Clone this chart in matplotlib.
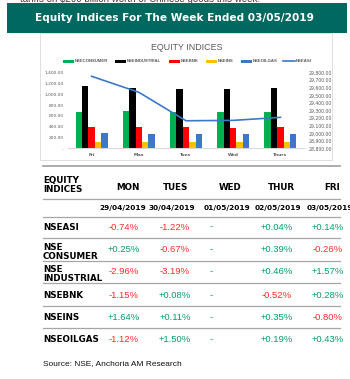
import numpy as np
import matplotlib
matplotlib.use('Agg')
import matplotlib.pyplot as plt
from matplotlib.patches import Rectangle
from matplotlib.lines import Line2D

# Chart data
days = ['Fri', 'Mon', 'Tues', 'Wed', 'Thurs']
nse_consumer = [681, 689, 676, 676, 676]
nse_industrial = [1160, 1123, 1094, 1094, 1112]
nsebnk = [390, 387, 387, 380, 387]
nseins = [125, 123, 123, 123, 123]
nseoilgas = [280, 276, 276, 276, 276]
nseasi = [29750, 29540, 29165, 29170, 29210]

bar_series = ['NSECONSUMER', 'NSEINDUSTRIAL', 'NSEBNK', 'NSEINS', 'NSEOILGAS']
bar_values = [nse_consumer, nse_industrial, nsebnk, nseins, nseoilgas]
bar_colors = ['#00b050', '#000000', '#ff0000', '#ffc000', '#3b78c8']
line_color = '#3b78c8'

# Table data
col_heads = ['MON', 'TUES', 'WED', 'THUR', 'FRI']
col_dates = ['29/04/2019', '30/04/2019', '01/05/2019', '02/05/2019', '03/05/2019']
row_names = ['NSEASI', 'NSE\nCONSUMER', 'NSE\nINDUSTRIAL', 'NSEBNK', 'NSEINS', 'NSEOILGAS']
row_values = [
    ['-0.74%', '-1.22%', '-', '+0.04%', '+0.14%'],
    ['+0.25%', '-0.67%', '-', '+0.39%', '-0.26%'],
    ['-2.96%', '-3.19%', '-', '+0.46%', '+1.57%'],
    ['-1.15%', '+0.08%', '-', '-0.52%', '+0.28%'],
    ['+1.64%', '+0.11%', '-', '+0.35%', '-0.80%'],
    ['-1.12%', '+1.50%', '-', '+0.19%', '+0.43%'],
]

W, H = 350, 379
fig = plt.figure(figsize=(W / 100, H / 100), dpi=100)
fig.patch.set_facecolor('white')


def fx(x):
    return x / W


def fy(y):
    return 1 - y / H


# text cut off at the very top
fig.text(fx(20), fy(1.5), 'tariffs on $200 billion worth of Chinese goods this week.',
         fontsize=7, color='#404040', va='baseline', ha='left', family='Liberation Sans', zorder=1)

# title banner
fig.add_artist(Rectangle((fx(7), fy(33)), fx(340), 30 / H, transform=fig.transFigure,
                         facecolor='#00695f', edgecolor='none', zorder=2))
fig.text(fx(174), fy(18), 'Equity Indices For The Week Ended 03/05/2019', color='white',
         fontsize=7.6, fontweight='bold', ha='center', va='center', zorder=3)

# chart box (behind the axes)
fig.add_artist(Rectangle((fx(40), fy(160)), fx(292), 127 / H, transform=fig.transFigure,
                         facecolor='white', edgecolor='#d9d9d9', lw=0.6, zorder=-1))
fig.text(fx(187), fy(47), 'EQUITY INDICES', fontsize=6.4, color='#595959',
         ha='center', va='center', family='Liberation Sans')

# legend drawn by hand
leg_x = [63, 115, 169, 206, 241]
for lx, name, c in zip(leg_x, bar_series, bar_colors):
    fig.add_artist(Rectangle((fx(lx), fy(62.5)), fx(11), 3 / H, transform=fig.transFigure,
                             facecolor=c, edgecolor='none'))
    fig.text(fx(lx + 12), fy(61), name, fontsize=3.1, color='#595959', fontweight='bold',
             ha='left', va='center', family='Liberation Sans')
fig.add_artist(Line2D([fx(283), fx(295)], [fy(61), fy(61)], color=line_color, lw=1.2))
fig.text(fx(296), fy(61), 'NSEASI', fontsize=3.1, color='#595959', fontweight='bold',
         ha='left', va='center', family='Liberation Sans')

# bar chart
ax = fig.add_axes([fx(68), fy(148.5), 236 / W, 76 / H])
x = np.arange(len(days))
bw = 0.135
for i, (vals, c) in enumerate(zip(bar_values, bar_colors)):
    ax.bar(x + (i - 2) * bw, vals, width=bw, color=c, edgecolor='none', zorder=2)
ax.set_xlim(-0.5, 4.5)
ax.set_ylim(0, 1400)
yt = np.arange(0, 1401, 200)
ax.set_yticks(yt)
ax.set_yticklabels(['-'] + ['{:,.2f}'.format(v) for v in yt[1:]])
ax.set_xticks(x)
ax.set_xticklabels(days)
for s in ['top', 'right', 'left']:
    ax.spines[s].set_visible(False)
ax.spines['bottom'].set_color('#d9d9d9')
ax.spines['bottom'].set_linewidth(0.8)
ax.tick_params(axis='both', length=0, labelsize=3.2, labelcolor='#595959')
ax.tick_params(axis='y', pad=3)
ax.tick_params(axis='x', pad=3.5)
for lab in ax.get_xticklabels():
    lab.set_fontweight('bold')
ax.patch.set_alpha(0)

ax2 = ax.twinx()
ax2.plot(x, nseasi, color=line_color, lw=1.2, zorder=3)
ax2.set_ylim(28800, 29800)
yt2 = np.arange(28800, 29801, 100)
ax2.set_yticks(yt2)
ax2.set_yticklabels(['{:,.2f}'.format(v) for v in yt2])
for s in ax2.spines.values():
    s.set_visible(False)
ax2.tick_params(axis='y', length=0, labelsize=3.3, labelcolor='#595959', pad=3)

# table
col_x = [128, 176, 230, 281, 332]
date_x = [123, 172, 227, 278, 330]
val_x = [124, 175, 211, 277, 328]
row_y = [227, 250, 272, 296, 318, 340]
green = '#00a06a'
red = '#ff2b2b'

line_ys = [199, 217, 238, 261, 283, 306, 328]
fig.add_artist(Line2D([fx(43), fx(340)], [fy(166), fy(166)], color='#a6a6a6', lw=1.3))
for ly in line_ys:
    fig.add_artist(Line2D([fx(43), fx(340)], [fy(ly), fy(ly)], color='#a6a6a6', lw=0.9))

fig.text(fx(43), fy(185), 'EQUITY\nINDICES', fontsize=6.3, fontweight='bold', ha='left',
         va='center', linespacing=1.0)
for cx, h in zip(col_x, col_heads):
    fig.text(fx(cx), fy(187), h, fontsize=6.3, fontweight='bold', ha='center', va='center')
for cx, d in zip(date_x, col_dates):
    fig.text(fx(cx), fy(208), d, fontsize=5.3, fontweight='bold', ha='center', va='center')

for ry, name, vals in zip(row_y, row_names, row_values):
    fig.text(fx(43), fy(ry + (2 if '\n' in name else 0)), name, fontsize=6.3, fontweight='bold',
             ha='left', va='center', linespacing=1.05)
    for vx, v in zip(val_x, vals):
        c = red if v.startswith('-') and v != '-' else green
        fig.text(fx(vx), fy(ry), v, fontsize=6.8, color=c, ha='center', va='center',
                 family='Liberation Sans')

fig.text(fx(43), fy(364), 'Source: NSE, Anchoria AM Research', fontsize=6,
         ha='left', va='center', family='Liberation Sans', color='#111111')

fig.savefig('out.png', dpi=100)
